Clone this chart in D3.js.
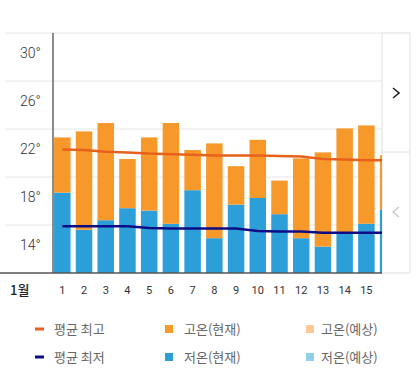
<!DOCTYPE html>
<html>
<head>
<meta charset="utf-8">
<script src="https://d3js.org/d3.v7.min.js"></script>
<style>
body { margin: 0; background: #fff; }
text { font-family: "Noto Sans CJK KR", "Noto Sans", sans-serif; }
</style>
</head>
<body>
<svg id="chart" width="416" height="371"></svg>
<script>
// data
const days = [1, 2, 3, 4, 5, 6, 7, 8, 9, 10, 11, 12, 13, 14, 15, 16];
const highNow = [23.3, 23.8, 24.5, 21.5, 23.3, 24.5, 22.25, 22.8, 20.9, 23.1, 19.7, 21.55, 22.05, 24.05, 24.3, 21.8];
const lowNow = [18.7, 15.6, 16.4, 17.4, 17.2, 16.1, 18.9, 14.9, 17.7, 18.25, 16.9, 14.9, 14.2, 15.3, 16.1, 17.3];
const avgHigh = [22.3, 22.25, 22.1, 22.05, 21.95, 21.9, 21.85, 21.8, 21.8, 21.8, 21.75, 21.7, 21.5, 21.45, 21.4, 21.4];
const avgLow = [15.9, 15.9, 15.9, 15.9, 15.75, 15.7, 15.7, 15.7, 15.7, 15.5, 15.45, 15.45, 15.35, 15.35, 15.35, 15.35];
const yLabels = [30, 26, 22, 18, 14];
const gridVals = [32, 28, 24, 20, 16];
const legendItems = [
  {name: "평균 최고", color: "#e8611c", type: "line"},
  {name: "고온(현재)", color: "#f7992a", type: "box"},
  {name: "고온(예상)", color: "#fdc896", type: "box"},
  {name: "평균 최저", color: "#0c0c86", type: "line"},
  {name: "저온(현재)", color: "#2c9fd9", type: "box"},
  {name: "저온(예상)", color: "#92cfe9", type: "box"}
];

const svg = d3.select("#chart");
const plotLeft = 53, plotRight = 382, plotTop = 33, plotBottom = 273;

const y = d3.scaleLinear().domain([12, 32]).range([plotBottom, plotTop]);
const x = d3.scaleLinear().domain([1, 16]).range([62.3, 62.3 + 15 * 21.72]);
const barW = 16.5;

// gridlines
svg.append("g").selectAll("line").data(gridVals).join("line")
  .attr("x1", 5).attr("x2", plotRight)
  .attr("y1", d => y(d)).attr("y2", d => y(d))
  .attr("stroke", "#e6e6e6").attr("stroke-width", 1);

// right side panel
svg.append("rect").attr("x", plotRight).attr("y", plotTop).attr("width", 28).attr("height", plotBottom - plotTop)
  .attr("fill", "#fff").attr("stroke", "#e0e0e0");
svg.append("line").attr("x1", plotRight).attr("x2", plotRight + 28).attr("y1", 152).attr("y2", 152)
  .attr("stroke", "#e0e0e0");
svg.append("path").attr("d", "M393,88 L399,93 L393,98").attr("fill", "none")
  .attr("stroke", "#222").attr("stroke-width", 1.6);
svg.append("path").attr("d", "M399,207 L393,212 L399,217").attr("fill", "none")
  .attr("stroke", "#c8c8c8").attr("stroke-width", 1.3);

// clipped plot
svg.append("clipPath").attr("id", "clip").append("rect")
  .attr("x", plotLeft).attr("y", 0).attr("width", plotRight - plotLeft).attr("height", plotBottom);
const plot = svg.append("g").attr("clip-path", "url(#clip)");

plot.selectAll("rect.low").data(days).join("rect").attr("class", "low")
  .attr("x", d => x(d) - barW / 2).attr("width", barW)
  .attr("y", (d, i) => y(lowNow[i])).attr("height", (d, i) => y(12) - y(lowNow[i]))
  .attr("fill", "#2c9fd9");
plot.selectAll("rect.high").data(days).join("rect").attr("class", "high")
  .attr("x", d => x(d) - barW / 2).attr("width", barW)
  .attr("y", (d, i) => y(highNow[i])).attr("height", (d, i) => y(lowNow[i]) - y(highNow[i]))
  .attr("fill", "#f7992a");

const line = arr => d3.line().x(d => x(d)).y((d, i) => y(arr[i]))(days);
plot.append("path").attr("d", line(avgHigh)).attr("fill", "none")
  .attr("stroke", "#e8611c").attr("stroke-width", 2.5);
plot.append("path").attr("d", line(avgLow)).attr("fill", "none")
  .attr("stroke", "#0c0c86").attr("stroke-width", 2.5);

// axes
svg.append("line").attr("x1", plotLeft).attr("x2", plotLeft).attr("y1", plotTop).attr("y2", plotBottom)
  .attr("stroke", "#666").attr("stroke-width", 1.5);
svg.append("line").attr("x1", 0).attr("x2", plotRight).attr("y1", plotBottom).attr("y2", plotBottom)
  .attr("stroke", "#555").attr("stroke-width", 1.5);

svg.append("g").selectAll("text").data(yLabels).join("text")
  .attr("x", 20).attr("y", d => y(d) + 1)
  .attr("font-size", 14).attr("fill", "#333").style("font-family", "Roboto, sans-serif")
  .style("font-weight", 300)
  .text(d => d + "°");

svg.append("g").selectAll("text").data(days.slice(0, 15)).join("text")
  .attr("x", d => x(d)).attr("y", 294).attr("text-anchor", "middle")
  .attr("font-size", 11).attr("fill", "#333").style("font-family", "Roboto, sans-serif")
  .text(d => d);
svg.append("text").attr("x", 10).attr("y", 295).attr("font-size", 13)
  .attr("font-weight", 500).attr("fill", "#222").text("1월");

// legend
const colX = [35, 165, 306], rowY = [329, 357];
const lg = svg.append("g").selectAll("g").data(legendItems).join("g")
  .attr("transform", (d, i) => `translate(${colX[i % 3]},${rowY[Math.floor(i / 3)]})`);
lg.filter(d => d.type === "line").append("rect")
  .attr("x", 0).attr("y", -1.5).attr("width", 9).attr("height", 3).attr("fill", d => d.color);
lg.filter(d => d.type === "box").append("rect")
  .attr("x", 0).attr("y", -4).attr("width", 8).attr("height", 8).attr("fill", d => d.color);
lg.append("text").attr("x", (d, i) => i % 3 === 2 ? 15 : 19).attr("y", 4.5)
  .attr("font-size", 13).attr("fill", "#666").text(d => d.name);
</script>
</body>
</html>
